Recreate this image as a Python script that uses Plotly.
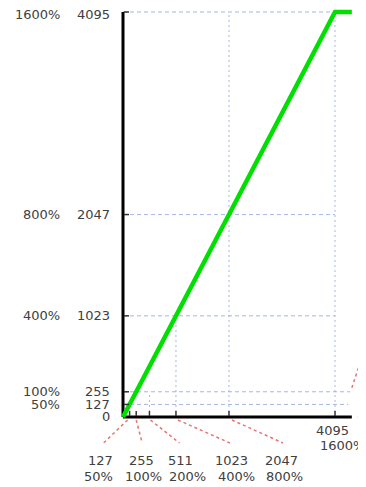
import plotly.graph_objects as go

# ---------------- data ----------------
input_codes = [0, 4095, 4420]          # input code (x)
output_codes = [0, 4095, 4095]         # output code (y), clipped at 4095

x_tick_values = [127, 255, 511, 1023, 2047, 4095]
x_tick_codes = ["127", "255", "511", "1023", "2047", "4095"]
x_tick_percent = ["50%", "100%", "200%", "400%", "800%", "1600%"]

y_tick_values = [0, 127, 255, 1023, 2047, 4095]
y_tick_codes = ["0", "127", "255", "1023", "2047", "4095"]
y_tick_percent = ["", "50%", "100%", "400%", "800%", "1600%"]

h_grid_values = [127, 255, 1023, 2047, 4095]
h_grid_ends = [4350, 4390, 4095, 4095, 4095]
v_grid_values = [511, 1023, 2047, 4095]
v_grid_ends = [255, 1023, 4095, 4095]

axis_x_end = 4420

# ---------------- layout geometry (pixels) ----------------
W, H = 366, 487
OFF = 8                        # page body margin shifts the figure by this much
X_PX0, X_PX_MAX = 123 - OFF, 335 - OFF     # figure pixel of x=0 and x=4095
Y_PX0, Y_PX_MAX = 417 - OFF, 12 - OFF      # figure pixel of y=0 and y=4095
xu = 4095 / (X_PX_MAX - X_PX0)
yu = 4095 / (Y_PX0 - Y_PX_MAX)
x_range = [-X_PX0 * xu, (W - X_PX0) * xu]
y_range = [-(H - Y_PX0) * yu, Y_PX0 * yu]

# label offsets (pixels relative to tick position on the x-axis)
num_dx = [-29, 5, 31, 56, 53, -3]
pct_dx = [-31, 7, 38, 61, 56, 7]
num_dy = [-43, -43, -43, -43, -43, -13]
pct_dy = [-59, -59, -59, -59, -59, -28]
# vertical nudge of y-axis labels (pixels)
y_lab_dy = [1, 0, 0, 0, 0, -2]
# leader line offsets (start dx, end dx), None = no leader
lead = [(-2, -26), (0, 6), (1, 30), (2, 54), (3, 54), None]

FONT = dict(family="DejaVu Sans, Verdana, sans-serif", size=13, color="#404040")
GRID = "rgba(150,170,220,0.85)"
RED = "rgba(225,90,90,0.85)"

fig = go.Figure()

# gridlines
for v, e in zip(h_grid_values, h_grid_ends):
    fig.add_trace(go.Scatter(x=[0, e], y=[v, v], mode="lines",
                             line=dict(color=GRID, width=1, dash="4px,3px"),
                             hoverinfo="skip", showlegend=False))
for v, e in zip(v_grid_values, v_grid_ends):
    fig.add_trace(go.Scatter(x=[v, v], y=[0, e], mode="lines",
                             line=dict(color=GRID, width=1, dash="2px,3px"),
                             hoverinfo="skip", showlegend=False))

# axes
fig.add_trace(go.Scatter(x=[0, axis_x_end], y=[0, 0], mode="lines",
                         line=dict(color="black", width=3),
                         hoverinfo="skip", showlegend=False))
fig.add_trace(go.Scatter(x=[0, 0], y=[0, max(y_tick_values)], mode="lines",
                         line=dict(color="black", width=3),
                         hoverinfo="skip", showlegend=False))

# transfer curve
fig.add_trace(go.Scatter(x=input_codes, y=output_codes, mode="lines",
                         line=dict(color="#00e000", width=4.5),
                         hoverinfo="skip", showlegend=False))

shapes = []
annotations = []

# x ticks, labels and leaders
for i, v in enumerate(x_tick_values):
    shapes.append(dict(type="line", xref="x", yref="y",
                       xsizemode="pixel", ysizemode="pixel",
                       xanchor=v, yanchor=0, x0=0, x1=0, y0=1, y1=6,
                       line=dict(color="#333", width=1.5)))
    annotations.append(dict(x=v, y=0, xref="x", yref="y", text=x_tick_codes[i],
                            showarrow=False, xanchor="center", yanchor="middle",
                            xshift=num_dx[i], yshift=num_dy[i], font=FONT))
    annotations.append(dict(x=v, y=0, xref="x", yref="y", text=x_tick_percent[i],
                            showarrow=False, xanchor="center", yanchor="middle",
                            xshift=pct_dx[i], yshift=pct_dy[i], font=FONT))
    if lead[i] is not None:
        shapes.append(dict(type="line", xref="x", yref="y",
                           xsizemode="pixel", ysizemode="pixel",
                           xanchor=v, yanchor=0, x0=lead[i][0], x1=lead[i][1],
                           y0=-3, y1=-26,
                           line=dict(color=RED, width=1.5, dash="dot")))

# y ticks and labels
for i, v in enumerate(y_tick_values):
    if v > 0:
        shapes.append(dict(type="line", xref="x", yref="y",
                           xsizemode="pixel", ysizemode="pixel",
                           xanchor=0, yanchor=v, x0=1, x1=6, y0=0, y1=0,
                           line=dict(color="#333", width=1.5)))
    annotations.append(dict(x=0, y=v, xref="x", yref="y", text=y_tick_codes[i],
                            showarrow=False, xanchor="right", yanchor="middle",
                            xshift=-11, yshift=y_lab_dy[i], font=FONT))
    if y_tick_percent[i]:
        annotations.append(dict(x=0, y=v, xref="x", yref="y", text=y_tick_percent[i],
                                showarrow=False, xanchor="right", yanchor="middle",
                                xshift=-61, yshift=y_lab_dy[i], font=FONT))

# right-side leaders (cut off at the edge)
shapes.append(dict(type="line", xref="x", yref="y", xsizemode="pixel", ysizemode="pixel",
                   xanchor=axis_x_end, yanchor=255, x0=0, x1=16, y0=4, y1=52,
                   line=dict(color=RED, width=1.5, dash="dot")))
shapes.append(dict(type="line", xref="x", yref="y", xsizemode="pixel", ysizemode="pixel",
                   xanchor=axis_x_end, yanchor=0, x0=6, x1=16, y0=0, y1=0,
                   line=dict(color=RED, width=1.5, dash="3px,2px")))

fig.update_layout(
    width=W, height=H,
    margin=dict(l=0, r=0, t=0, b=0),
    paper_bgcolor="white", plot_bgcolor="white",
    xaxis=dict(range=x_range, visible=False, fixedrange=True),
    yaxis=dict(range=y_range, visible=False, fixedrange=True),
    shapes=shapes, annotations=annotations,
    showlegend=False,
)

fig.write_html("out.html")
